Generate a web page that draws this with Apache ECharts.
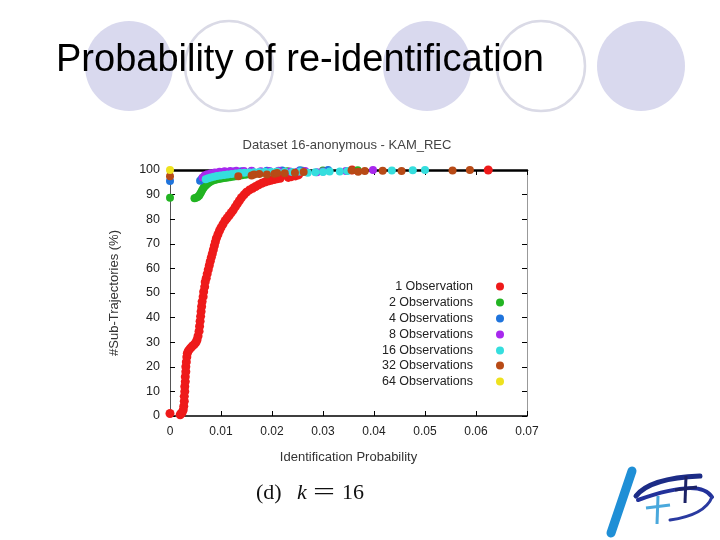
<!DOCTYPE html>
<html><head><meta charset="utf-8">
<script src="https://cdn.jsdelivr.net/npm/echarts@6/dist/echarts.min.js"></script>
<style>html,body{margin:0;padding:0;background:#fff}#c{width:720px;height:540px}</style>
</head><body><div id="c"></div>
<script>
const seriesNames = ['1 Observation','2 Observations','4 Observations','8 Observations','16 Observations','32 Observations','64 Observations'];
const seriesColors = ['#ee1a1a','#22b422','#1f74dc','#a828ee','#35dede','#b84a16','#eee21e'];
const xTickValues = [0,0.01,0.02,0.03,0.04,0.05,0.06,0.07];
const yTickValues = [0,10,20,30,40,50,60,70,80,90,100];

const obs1 = [[0,1],[0.0020,0.5],[0.0022,1],[0.0024,1.5],[0.0026,2.5],[0.0027,4],[0.0028,6],[0.0028,8],[0.0029,10],[0.0029,12],[0.0030,14],[0.0030,16],[0.0031,18],[0.0031,20],[0.0032,22],[0.0033,24],[0.0034,25.5],[0.0036,26.5],[0.0039,27.3],[0.0042,28],[0.0045,28.6],[0.0048,29.2],[0.0051,30],[0.0053,31],[0.0055,32.5],[0.0057,34.5],[0.0058,36.5],[0.0059,38.5],[0.0060,40.5],[0.0061,42.5],[0.0062,44.5],[0.0063,46.5],[0.0065,48.5],[0.0066,50.5],[0.0068,52.5],[0.0069,54.5],[0.0071,56],[0.0073,57.8],[0.0075,59.5],[0.0077,61.2],[0.0079,62.9],[0.0081,64.5],[0.0083,66],[0.0085,67.6],[0.0087,69.2],[0.0089,70.8],[0.0091,72.3],[0.0094,73.8],[0.0097,75.3],[0.0100,76.6],[0.0104,78],[0.0108,79.4],[0.0112,80.5],[0.0116,81.5],[0.0120,82.6],[0.0124,83.7],[0.0128,85],[0.0132,86.3],[0.0136,87.5],[0.0140,88.7],[0.0145,89.9],[0.0150,91],[0.0156,91.9],[0.0162,92.6],[0.0168,93.3],[0.0174,94],[0.0180,94.6],[0.0186,95.1],[0.0192,95.5],[0.0198,95.8],[0.0204,96.1],[0.0210,96.4],[0.0216,96.6],[0.0232,97],[0.0238,97.3],[0.0246,97.6],[0.0252,98],[0.0357,100],[0.0624,100]];
const obs2 = [[0,88.7],[0.0048,88.5],[0.0051,88.7],[0.0054,89],[0.0057,89.5],[0.0059,90.2],[0.0061,91],[0.0063,91.8],[0.0065,92.5],[0.0067,93.1],[0.0070,93.7],[0.0073,94.3],[0.0076,94.8],[0.0079,95.2],[0.0083,95.6],[0.0087,95.9],[0.0091,96.1],[0.0096,96.3],[0.0101,96.5],[0.0106,96.7],[0.0111,96.9],[0.0117,97.1],[0.0123,97.3],[0.0129,97.5],[0.0135,97.7],[0.0141,97.9],[0.0148,98.1],[0.0155,98.3],[0.0163,98.5],[0.0172,98.7],[0.0182,98.9],[0.0195,99.1],[0.0210,99.3],[0.0230,99.5],[0.0260,99.7],[0.0300,99.8],[0.0368,99.9]];
const obs4 = [[0,95.5],[0.0059,95.6],[0.0062,96.3],[0.0066,97],[0.0071,97.5],[0.0077,98],[0.0084,98.4],[0.0092,98.7],[0.0101,99],[0.0112,99.2],[0.0125,99.4],[0.0140,99.5],[0.0160,99.6],[0.0190,99.7],[0.0220,99.8],[0.0255,99.9],[0.0310,100]];
const obs8 = [[0.0064,97],[0.0068,97.8],[0.0073,98.3],[0.0080,98.7],[0.0088,99],[0.0097,99.3],[0.0107,99.5],[0.0118,99.6],[0.0130,99.7],[0.0145,99.6],[0.0160,99.7],[0.0178,99.5],[0.0195,99.6],[0.0213,99.7],[0.0235,99.4],[0.0250,99.3],[0.0265,99.6],[0.0288,99.1],[0.0300,99.4],[0.0345,99.6],[0.0398,100]];
const obs16 = [[0.0070,96.2],[0.0075,96.6],[0.0080,97],[0.0086,97.3],[0.0092,97.6],[0.0099,97.8],[0.0106,98],[0.0113,98.2],[0.0121,98.4],[0.0129,98.6],[0.0137,98.8],[0.0146,98.9],[0.0155,99],[0.0165,99.1],[0.0175,99.2],[0.0186,99.3],[0.0198,99.3],[0.0210,99.4],[0.0225,99.3],[0.0240,99.2],[0.0255,99.4],[0.0270,98.9],[0.0285,99.1],[0.0300,99.2],[0.0313,99.4],[0.0333,99.4],[0.0348,99.6],[0.0435,99.8],[0.0476,99.9],[0.0500,100]];
const obs32 = [[0,97.5],[0.0134,97.5],[0.0160,97.8],[0.0165,98.2],[0.0175,98.4],[0.0190,98.2],[0.0205,98.5],[0.0210,98.8],[0.0225,98.7],[0.0245,98.9],[0.0262,99.2],[0.0356,99.9],[0.0369,99.3],[0.0382,99.6],[0.0417,99.7],[0.0454,99.6],[0.0554,99.8],[0.0588,100]];
const obs64 = [[0,100]];
const allData = [obs1,obs2,obs4,obs8,obs16,obs32,obs64];

const legendRowsY = [288,304,320,336,352,367,383];

const chart = echarts.init(document.getElementById('c'), null, {renderer:'canvas'});
const FONT = "'Liberation Sans', Arial, sans-serif";
const SERIF = "'Liberation Serif', 'DejaVu Serif', serif";

const series = seriesNames.map((n,i)=>({
  name:n, type:'scatter', data:allData[i], symbol:'circle', symbolSize: i===0 ? 9 : 8,
  itemStyle:{color:seriesColors[i], opacity:1}, clip:false, xAxisIndex:0, yAxisIndex:0,
  emphasis:{disabled:true}, z:2+i
}));

const legends = seriesNames.map((n,i)=>({
  data:[n], orient:'horizontal', align:'right', right:216, top:legendRowsY[i]-8,
  itemWidth:44, itemHeight:8, icon:'circle', padding:0, selectedMode:false,
  textStyle:{fontSize:12.5, color:'#222', fontFamily:FONT}
}));

const circles = [
  {cx:129, filled:true},{cx:229, filled:false},{cx:427, filled:true},{cx:541, filled:false},{cx:641, filled:true}
];

const graphics = circles.map(c=>({
  type:'ellipse', z:0, shape:{cx:c.cx, cy:66, rx:44, ry:45},
  style: c.filled ? {fill:'#d9d9ee'} : {fill:'none', stroke:'#dadae6', lineWidth:2.5}
}));
graphics.push(
  {type:'text', z:10, left:256, top:482, style:{text:'(d)', fontFamily:SERIF, fontSize:22, fill:'#111'}},
  {type:'text', z:10, left:297, top:482, style:{text:'k', fontFamily:SERIF, fontStyle:'italic', fontSize:22, fill:'#111'}},
  {type:'text', z:10, x:313, y:480, scaleX:1.5, style:{text:'=', fontFamily:SERIF, fontSize:26, fill:'#111'}},
  {type:'text', z:10, left:342, top:482, style:{text:'16', fontFamily:SERIF, fontSize:22, fill:'#111'}},
  {type:'line', z:5, shape:{x1:611,y1:533,x2:632,y2:471}, style:{stroke:'#1f8fd6', lineWidth:9, lineCap:'round'}},
  {type:'bezierCurve', z:6, shape:{x1:636,y1:496,cpx1:650,cpy1:478,x2:700,y2:476}, style:{stroke:'#1c2c86', lineWidth:5, fill:'none', lineCap:'round'}},
  {type:'bezierCurve', z:6, shape:{x1:638,y1:500,cpx1:700,cpy1:478,x2:712,y2:497}, style:{stroke:'#22319a', lineWidth:4, fill:'none', lineCap:'round'}},
  {type:'bezierCurve', z:6, shape:{x1:712,y1:497,cpx1:705,cpy1:515,x2:670,y2:520}, style:{stroke:'#2a3aa0', lineWidth:3, fill:'none', lineCap:'round'}},
  {type:'line', z:7, shape:{x1:658,y1:496,x2:657,y2:524}, style:{stroke:'#4aa8dc', lineWidth:3}},
  {type:'line', z:7, shape:{x1:646,y1:508,x2:670,y2:505}, style:{stroke:'#4aa8dc', lineWidth:3}},
  {type:'line', z:7, shape:{x1:686,y1:476,x2:685,y2:503}, style:{stroke:'#1c2266', lineWidth:3}},
  {type:'line', z:7, shape:{x1:675,y1:490,x2:697,y2:487}, style:{stroke:'#1c2266', lineWidth:3}}
);

const option = {
  backgroundColor:'#ffffff',
  animation:false,
  title:[
    {text:'Probability of re-identification', left:56, top:42, z:10, padding:0,
     textStyle:{fontSize:38, fontWeight:'normal', color:'#000', fontFamily:FONT}},
    {text:'Dataset 16-anonymous - KAM_REC', left:347, top:139, textAlign:'center', padding:0,
     textStyle:{fontSize:13, fontWeight:'normal', color:'#444', fontFamily:FONT}}
  ],
  legend:legends,
  grid:{left:170, top:170, width:357, height:246, show:false},
  xAxis:[
    {type:'value', min:0, max:0.07, interval:0.01, position:'bottom',
     name:'Identification Probability', nameLocation:'middle', nameGap:35,
     nameTextStyle:{fontSize:13, color:'#333', fontFamily:FONT},
     axisLine:{show:true, onZero:false, lineStyle:{color:'#000', width:1.5}},
     axisTick:{show:true, inside:true, length:5, lineStyle:{color:'#000'}},
     axisLabel:{fontSize:12, color:'#222', margin:10, fontFamily:FONT,
       formatter:v=> v===0 ? '0' : v.toFixed(2)},
     splitLine:{show:false}},
    {type:'value', min:0, max:0.07, interval:0.01, position:'top',
     axisLine:{show:true, onZero:false, lineStyle:{color:'#000', width:2.5}},
     axisTick:{show:true, inside:true, length:5, lineStyle:{color:'#000'}},
     axisLabel:{show:false}, splitLine:{show:false}}
  ],
  yAxis:[
    {type:'value', min:0, max:100, interval:10, position:'left',
     name:'#Sub-Trajectories (%)', nameLocation:'middle', nameGap:49, nameRotate:90,
     nameTextStyle:{fontSize:13, color:'#333', fontFamily:FONT},
     axisLine:{show:true, onZero:false, lineStyle:{color:'#555', width:1}},
     axisTick:{show:true, inside:true, length:5, lineStyle:{color:'#000'}},
     axisLabel:{fontSize:12.5, color:'#222', margin:10, fontFamily:FONT},
     splitLine:{show:false}},
    {type:'value', min:0, max:100, interval:10, position:'right',
     axisLine:{show:true, onZero:false, lineStyle:{color:'#999', width:1}},
     axisTick:{show:true, inside:true, length:5, lineStyle:{color:'#000'}},
     axisLabel:{show:false}, splitLine:{show:false}}
  ],
  series:series,
  graphic:{elements:graphics}
};
chart.setOption(option);
</script></body></html>
